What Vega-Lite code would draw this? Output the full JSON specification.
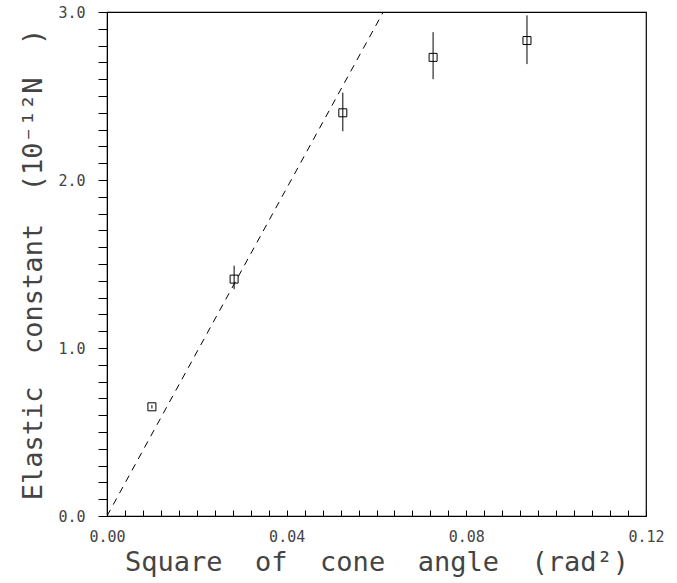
{
  "$schema": "https://vega.github.io/schema/vega-lite/v6.json",
  "width": 539,
  "height": 504,
  "autosize": {"type": "none"},
  "padding": {"left": 107, "top": 12, "right": 31, "bottom": 67},
  "background": "white",
  "config": {
    "view": {"stroke": "black", "strokeWidth": 1.2},
    "axis": {
      "grid": false,
      "domainColor": "black",
      "labelFont": "DejaVu Sans Mono",
      "titleFont": "DejaVu Sans Mono",
      "labelColor": "#444",
      "titleColor": "#444",
      "labelFontSize": 15,
      "titleFontSize": 27,
      "titleFontWeight": "normal",
      "labelFlush": false,
      "labelOverlap": false
    },
    "axisY": {"ticks": true, "tickOpacity": 1, "tickDash": [], "tickColor": "black", "tickWidth": 1, "tickOffset": 0},
    "axisLeft": {"ticks": true, "tickOpacity": 1, "tickDash": [], "tickColor": "black", "tickWidth": 1, "tickOffset": 0}
  },
  "datasets": {
    "points": [
      {"x": 0.0100, "y": 0.65, "lo": 0.64, "hi": 0.66},
      {"x": 0.0283, "y": 1.41, "lo": 1.35, "hi": 1.49},
      {"x": 0.0525, "y": 2.40, "lo": 2.29, "hi": 2.52},
      {"x": 0.0726, "y": 2.73, "lo": 2.60, "hi": 2.88},
      {"x": 0.0935, "y": 2.83, "lo": 2.69, "hi": 2.98}
    ],
    "fit": [
      {"x": 0.0, "y": 0.0},
      {"x": 0.0615, "y": 3.0}
    ]
  },
  "encoding": {
    "x": {
      "field": "x", "type": "quantitative",
      "scale": {"domain": [0, 0.12], "nice": false, "zero": false},
      "axis": {
        "title": "Square\u00a0 of\u00a0 cone\u00a0 angle\u00a0 (rad²)",
        "ticks": true,
        "tickSize": -6,
        "tickColor": "black",
        "tickWidth": 1,
        "labelPadding": 19,
        "titlePadding": 5,
        "values": [0, 0.004, 0.008, 0.012, 0.016, 0.02, 0.024, 0.028, 0.032, 0.036, 0.04, 0.044, 0.048, 0.052, 0.056, 0.06, 0.064, 0.068, 0.072, 0.076, 0.08, 0.084, 0.088, 0.092, 0.096, 0.1, 0.104, 0.108, 0.112, 0.116, 0.12],
        "labelExpr": "abs(datum.value * 25 - round(datum.value * 25)) < 0.001 ? format(datum.value, '.2f') : ''"
      }
    },
    "y": {
      "field": "y", "type": "quantitative",
      "scale": {"domain": [0, 3], "nice": false, "zero": false},
      "axis": {
        "title": "Elastic\u00a0 constant\u00a0 (10⁻¹²N\u00a0 )",
        "orient": "left",
        "domain": true,
        "ticks": true,
        "tickSize": 9,
        "tickColor": "black",
        "tickWidth": 1,
        "tickOpacity": 1,
        "tickDash": [],
        "tickOffset": 0,
        "zindex": 2,
        "labelPadding": 13,
        "titlePadding": 10,
        "values": [0, 0.1, 0.2, 0.3, 0.4, 0.5, 0.6, 0.7, 0.8, 0.9, 1, 1.1, 1.2, 1.3, 1.4, 1.5, 1.6, 1.7, 1.8, 1.9, 2, 2.1, 2.2, 2.3, 2.4, 2.5, 2.6, 2.7, 2.8, 2.9, 3],
        "labelExpr": "abs(datum.value - round(datum.value)) < 0.001 ? format(datum.value, '.1f') : ''"
      }
    }
  },
  "layer": [
    {
      "data": {"name": "fit"},
      "mark": {"type": "line", "strokeDash": [7, 6], "color": "black", "strokeWidth": 1, "clip": true}
    },
    {
      "data": {"name": "points"},
      "transform": [
        {"fold": ["lo", "hi"], "as": ["bound", "y"]}
      ],
      "mark": {"type": "line", "color": "black", "strokeWidth": 1},
      "encoding": {
        "detail": {"field": "x", "type": "nominal"}
      }
    },
    {
      "data": {"name": "points"},
      "mark": {"type": "point", "shape": "square", "size": 64, "filled": false, "color": "black", "strokeWidth": 1, "opacity": 1}
    }
  ]
}
